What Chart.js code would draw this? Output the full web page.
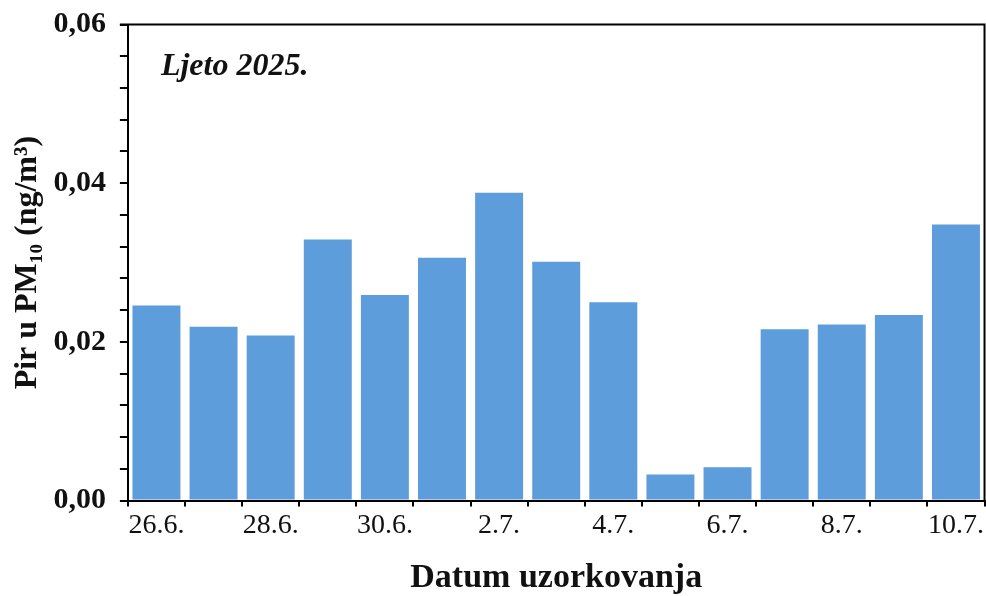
<!DOCTYPE html>
<html lang="hr">
<head>
    <meta charset="UTF-8">
    <title>Pir u PM10 - Ljeto 2025.</title>
    <script src="https://cdn.jsdelivr.net/npm/chart.js"></script>
    <style>
        body { margin: 0; background: #fff; }
        canvas { display: block; }
    </style>
</head>
<body>
    <canvas id="pirChart" width="986" height="596"></canvas>

    <script>
        // datumi uzorkovanja i izmjerene koncentracije
        const datumi = ['26.6.', '27.6.', '28.6.', '29.6.', '30.6.', '1.7.', '2.7.', '3.7.',
                        '4.7.', '5.7.', '6.7.', '7.7.', '8.7.', '9.7.', '10.7.'];
        const pirVrijednosti = [0.0246, 0.0219, 0.0208, 0.0329, 0.0259, 0.0306, 0.0388, 0.0301,
                                0.0250, 0.0033, 0.0042, 0.0216, 0.0222, 0.0234, 0.0348];
        const yOznake = [0, 0.02, 0.04, 0.06];

        const serif = '"Liberation Serif", "Times New Roman", serif';

        // okvir gore i desno + natpis sezone
        const okvirPlugin = {
            id: 'okvir',
            afterDraw(chart) {
                const { ctx, chartArea } = chart;
                ctx.save();
                ctx.strokeStyle = '#000';
                ctx.lineWidth = 2;
                ctx.beginPath();
                ctx.moveTo(chartArea.left - 8, chartArea.top);
                ctx.lineTo(chartArea.right, chartArea.top);
                ctx.lineTo(chartArea.right, chartArea.bottom);
                ctx.stroke();

                ctx.fillStyle = '#111';
                ctx.font = 'italic bold 32px ' + serif;
                ctx.textBaseline = 'middle';
                ctx.fillText('Ljeto 2025.', chartArea.left + 33, chartArea.top + 42);
                ctx.restore();
            }
        };

        new Chart(document.getElementById('pirChart'), {
            type: 'bar',
            data: {
                labels: datumi,
                datasets: [{
                    label: 'Pir u PM10',
                    data: pirVrijednosti,
                    backgroundColor: '#5d9ddb',
                    borderWidth: 0,
                    barPercentage: 0.84,
                    categoryPercentage: 1.0
                }]
            },
            options: {
                responsive: false,
                animation: false,
                layout: { padding: { top: 2, right: 1, left: 9, bottom: -3 } },
                plugins: {
                    legend: { display: false },
                    tooltip: { enabled: false }
                },
                scales: {
                    x: {
                        offset: true,
                        grid: {
                            offset: true,
                            drawOnChartArea: false,
                            drawTicks: true,
                            tickLength: 6,
                            color: '#000',
                            lineWidth: 2
                        },
                        border: { color: '#000', width: 2 },
                        ticks: {
                            autoSkip: false,
                            maxRotation: 0,
                            padding: 2,
                            color: '#111',
                            font: { family: serif, size: 28 },
                            callback: (v, i) => (i % 2 === 0 ? datumi[i] : '')
                        },
                        title: {
                            display: true,
                            text: 'Datum uzorkovanja',
                            color: '#111',
                            font: { family: serif, size: 34, weight: 'bold' },
                            padding: { top: 14, bottom: 0 }
                        }
                    },
                    y: {
                        min: 0,
                        max: 0.06,
                        grid: {
                            drawOnChartArea: false,
                            drawTicks: true,
                            tickLength: 8,
                            color: '#000',
                            lineWidth: 2
                        },
                        border: { color: '#000', width: 2 },
                        ticks: {
                            autoSkip: false,
                            stepSize: 0.004,
                            padding: 14,
                            color: '#111',
                            font: { family: serif, size: 30, weight: 'bold', lineHeight: 0.7 },
                            callback: (v) => {
                                const oznaka = yOznake.find(o => Math.abs(o - v) < 1e-9);
                                return oznaka === undefined ? '' : oznaka.toFixed(2).replace('.', ',');
                            }
                        },
                        title: {
                            display: true,
                            text: 'Pir u PM₁₀ (ng/m³)',
                            color: '#111',
                            font: { family: serif, size: 32, weight: 'bold' },
                            padding: { top: 0, bottom: -8 }
                        }
                    }
                }
            },
            plugins: [okvirPlugin]
        });
    </script>
</body>
</html>
